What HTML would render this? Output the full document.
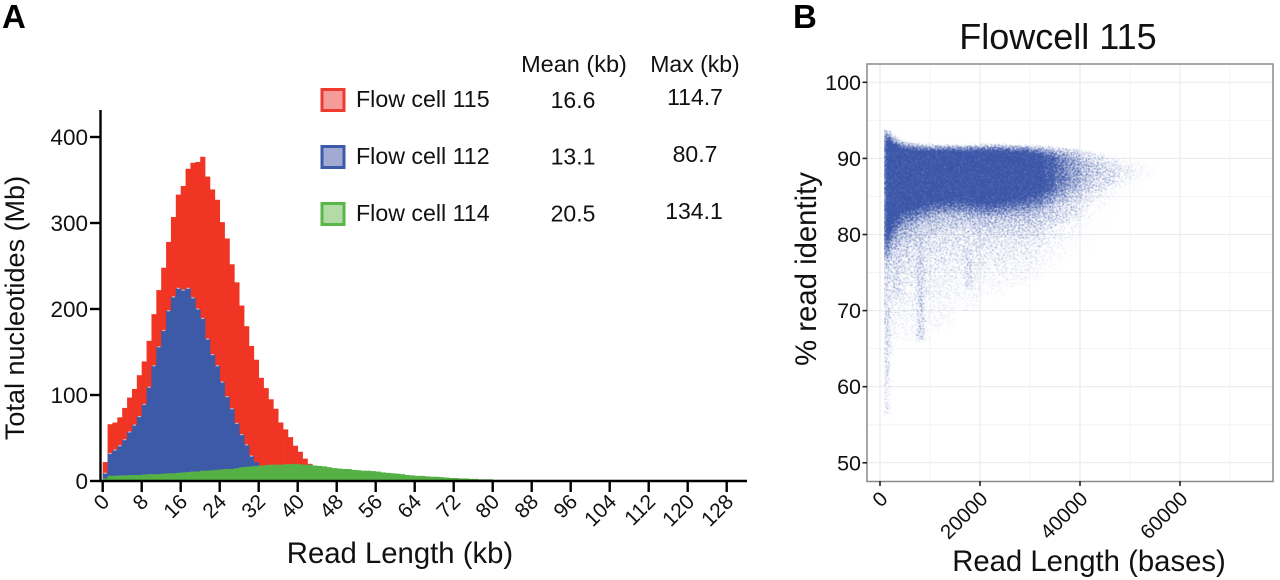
<!DOCTYPE html>
<html>
<head>
<meta charset="utf-8">
<title>Read length and identity</title>
<style>
html,body{margin:0;padding:0;background:#fff}
svg{display:block;font-family:"Liberation Sans",Arial,sans-serif;fill:#111}
</style>
</head>
<body>
<svg id="fig" xmlns="http://www.w3.org/2000/svg" width="1280" height="580" viewBox="0 0 1280 580">
  <defs>
    <filter id="grain" filterUnits="userSpaceOnUse" x="870" y="90" width="340" height="360" color-interpolation-filters="sRGB">
      <feGaussianBlur in="SourceAlpha" stdDeviation="2.5 1.2" result="soft"/>
      <feComponentTransfer in="soft" result="lifted">
        <feFuncA type="table" tableValues="0 0.3 0.38 0.46 0.54 0.62 0.7 0.8 0.9 1 1"/>
      </feComponentTransfer>
      <feTurbulence type="fractalNoise" baseFrequency="0.8" numOctaves="2" seed="7" result="rawNoise"/>
      <feComponentTransfer in="rawNoise" result="noise">
        <feFuncA type="linear" slope="2.2" intercept="-0.6"/>
      </feComponentTransfer>
      <feComposite in="lifted" in2="noise" operator="arithmetic" k1="0" k2="3.6" k3="3" k4="-3" result="mask"/>
      <feGaussianBlur in="mask" stdDeviation="0.4" result="maskSoft"/>
      <feFlood flood-color="#3b56a8"/>
      <feComposite in2="maskSoft" operator="in"/>
    </filter>
    <clipPath id="scatter-clip"><rect x="884" y="60" width="389" height="421"/></clipPath>
  </defs>

  <text x="2" y="28" font-size="33" font-weight="bold" fill="#000">A</text>
  <text x="793" y="28" font-size="33" font-weight="bold" fill="#000">B</text>

  <g id="hist"></g>
  <g id="axesA"></g>
  <text font-size="27" text-anchor="middle" transform="translate(24,308) rotate(-90)">Total nucleotides (Mb)</text>
  <text x="400" y="563" font-size="29.3" text-anchor="middle">Read Length (kb)</text>

  <g>
    <text x="574" y="72" font-size="23.5" text-anchor="middle">Mean (kb)</text>
    <text x="695" y="72" font-size="23" text-anchor="middle">Max (kb)</text>

    <rect x="322" y="89.5" width="22" height="21" fill="#f59c9a" stroke="#ee3a30" stroke-width="3"/>
    <text x="356" y="107" font-size="23.2">Flow cell 115</text>
    <text x="573" y="108" font-size="23" text-anchor="middle">16.6</text>
    <text x="695" y="105" font-size="23" text-anchor="middle">114.7</text>

    <rect x="322" y="146.5" width="22" height="21" fill="#a0aad2" stroke="#3c5aa8" stroke-width="3"/>
    <text x="356" y="164" font-size="23.2">Flow cell 112</text>
    <text x="573" y="164.500" font-size="23" text-anchor="middle">13.1</text>
    <text x="695" y="162" font-size="23" text-anchor="middle">80.7</text>

    <rect x="322" y="203.500" width="22" height="21" fill="#b2dbA8" stroke="#5ab54a" stroke-width="3"/>
    <text x="356" y="221" font-size="23.2">Flow cell 114</text>
    <text x="573" y="221.500" font-size="23" text-anchor="middle">20.5</text>
    <text x="694" y="219" font-size="23" text-anchor="middle">134.1</text>
  </g>

  <text x="1058" y="49" font-size="36" text-anchor="middle">Flowcell 115</text>
  <g id="gridB"></g>
  <g clip-path="url(#scatter-clip)">
    <g id="scatter" filter="url(#grain)"></g>
  </g>
  <g id="axesB"></g>
  <text font-size="29.3" text-anchor="middle" transform="translate(816,269) rotate(-90)">% read identity</text>
  <text x="1089" y="571" font-size="29.3" text-anchor="middle">Read Length (bases)</text>
</svg>
<script>
// Panel A: nucleotides (Mb) per 1 kb read-length bin
const redValues = [22,66,68,74,85,97,107,123,139,163,194,222,248,278,307,333,343,363,370,371,377,354,339,327,301,282,252,231,204,180,157,141,120,108,95,84,68,60,51,41,34,26,20,16,8];
const blueValues = [9,32,36,41,48,57,65,75,89,109,134,156,175,198,214,224,222,224,213,200,189,165,147,134,115,98,84,67,54,42,29,22,18,12,6];
const greenValues = [3,6,6,6.5,6.5,7,7,7,7.5,8,8,8,8.5,9,9,9.5,10,10.5,11,11,12,12,12.5,13,13.5,14,14,15,16,16.5,17,17.5,18,18.5,19,19,19,19.5,19.5,20,19.5,19,19,18,17.5,17,16,15,14.5,14,14,13,12.5,12,12,11.5,11,10,9.5,9,8.5,8,7,6.5,6,6,5.5,5,5,4.5,4,3.5,3.5,3,3,2.5,2.5,2,2,2,1,0.6,0.5,0.4,0.3];
const xTicksA = [0,8,16,24,32,40,48,56,64,72,80,88,96,104,112,120,128];
const yTicksA = [0,100,200,300,400];

// Panel B: density bands of the scatter, read by eye per read-length bin
const bandBases = [900,1500,2000,3000,4000,5000,7500,10000,12500,15000,17500,20000,22500,25000,27500,30000,32500,35000,37500,40000,42500,45000,47500,50000,52500,55000];
const topEdge = [93.8,93.5,93,92.5,92.2,92,91.8,91.7,91.7,91.7,91.7,91.8,91.8,91.7,91.7,91.6,91.5,91.4,91.2,91,90.8,90.5,90.2,90,89.5];
const coreTop = [92.8,92.2,91.6,91.2,91,90.9,90.8,90.8,90.8,90.8,90.8,90.8,90.8,90.7,90.6,90.4,90.2,89.9,89.6,89.2,89,88.9,88.8,88.8,88.8];
const coreBottom = [78,80,82,83,83.8,84,84.6,85,85,85,84.8,84.6,84.8,85,85.4,85.8,86.2,86.6,87,87.4,87.5,87.5,87.5,87.5,87.5];
const fringeBottom = [75,75.5,76,77,77.5,78,79,79.5,80,80,79.8,79.8,79.8,80,80,80,80.5,81,81.5,82,83,84,85,86,87];
const tailBottom = [56,60,64,66,66,66,66,67,68,70,70,72,72,73,73,74,75,76,77,78,80,82,84,85,86];
const coreDensity = [1,1,1,1,1,1,1,1,1,1,1,1,1,1,1,0.95,0.8,0.62,0.45,0.3,0.2,0.13,0.08,0.05,0.02];
const streakBases = [1300,3500,5300,8100,17700];
const streakTop = [76,83,83,80,78];
const streakBottom = [56,72,76,66,73];
const streakDensity = [0.22,0.3,0.22,0.4,0.2];
const xTicksB = [0,20000,40000,60000];
const xMinorB = [10000,30000,50000,70000];
const yTicksB = [50,60,70,80,90,100];
const yMinorB = [55,65,75,85,95];

const NS = 'http://www.w3.org/2000/svg';
function make(tag, attrs, parent) {
  const el = document.createElementNS(NS, tag);
  for (const k in attrs) el.setAttribute(k, attrs[k]);
  parent.appendChild(el);
  return el;
}
const xA = kb => 102.7 + kb * 4.875;
const yA = v => 481 - v * 0.86;
const xB = b => 880 + b / 200;
const yB = p => 82.3 + (100 - p) * 7.61;

const hist = document.getElementById('hist');
function drawSeries(values, colour, name) {
  const g = make('g', {fill: colour}, hist);
  
  
  values.forEach((v, i) => {
    const bar = make('rect', {x: xA(i), y: yA(v), width: 5.2, height: 481 - yA(v)}, g);
    
    
  });
  return g;
}
drawSeries(redValues, '#f03524', 'flow-cell-115-series');
const blueGroup = drawSeries(blueValues, '#3d5aa8', 'flow-cell-112-series');
blueValues.forEach((v, i) => {
  if (i > 30) return;
  const cap = make('rect', {x: xA(i) + 1, y: yA(v) - 0.6, width: 3, height: 1.2, fill: '#b9bcd0'}, blueGroup);
  
  
});
drawSeries(greenValues, '#55b146', 'flow-cell-114-series');

const axesA = document.getElementById('axesA');
const yAxisLine = make('line', {x1: 100.5, x2: 100.5, y1: 110, y2: 482, stroke: '#000', 'stroke-width': 2.4}, axesA);


const xAxisLine = make('line', {x1: 100, x2: 747, y1: 481, y2: 481, stroke: '#000', 'stroke-width': 2.4}, axesA);


yTicksA.forEach(t => {
  const tick = make('line', {x1: 90, x2: 100, y1: yA(t), y2: yA(t), stroke: '#000', 'stroke-width': 2.4}, axesA);
  
  
  const label = make('text', {x: 88, y: yA(t) + 8, 'font-size': 22.5, 'text-anchor': 'end'}, axesA);
  label.textContent = t;
  
  
});
xTicksA.forEach(t => {
  const tick = make('line', {x1: xA(t), x2: xA(t), y1: 481, y2: 492, stroke: '#000', 'stroke-width': 2.4}, axesA);
  
  
  const px = xA(t) + 8, py = 503;
  const label = make('text', {x: px, y: py, 'font-size': 21, 'text-anchor': 'end', transform: 'rotate(-45 ' + px + ' ' + py + ')'}, axesA);
  label.textContent = t;
  
  
});

const gridB = document.getElementById('gridB');
function gridLine(attrs, colour, name) {
  const l = make('line', Object.assign({stroke: colour, 'stroke-width': 1}, attrs), gridB);
  
  
}
xMinorB.forEach(b => gridLine({x1: xB(b), x2: xB(b), y1: 64, y2: 481}, '#f4f4f7', 'x-minor-gridline'));
yMinorB.forEach(p => gridLine({x1: 867, x2: 1273, y1: yB(p), y2: yB(p)}, '#f4f4f7', 'y-minor-gridline'));
xTicksB.forEach(b => gridLine({x1: xB(b), x2: xB(b), y1: 64, y2: 481}, '#e9e9ee', 'x-major-gridline'));
yTicksB.forEach(p => gridLine({x1: 867, x2: 1273, y1: yB(p), y2: yB(p)}, '#e9e9ee', 'y-major-gridline'));

const scatter = document.getElementById('scatter');
const defs = document.querySelector('defs');
topEdge.forEach((top, i) => {
  const y0 = yB(top), y1 = yB(tailBottom[i]), h = y1 - y0, d = coreDensity[i];
  const off = p => (yB(p) - y0) / h;
  const grad = make('linearGradient', {id: 'band' + i, x1: 0, x2: 0, y1: 0, y2: 1}, defs);
  [[0, d * 0.2], [off(coreTop[i]), d], [off(coreBottom[i]), d],
   [off((coreBottom[i] + fringeBottom[i]) / 2), d * 0.32],
   [off(fringeBottom[i]), d * 0.1], [1, d * 0.03]].forEach(s => {
    make('stop', {offset: s[0], 'stop-color': '#000', 'stop-opacity': s[1]}, grad);
  });
  const band = make('rect', {x: xB(bandBases[i]), y: y0, width: xB(bandBases[i + 1]) - xB(bandBases[i]), height: h, fill: 'url(#band' + i + ')'}, scatter);
  
  
});
streakBases.forEach((b, i) => {
  const s = make('rect', {x: xB(b) - 1, y: yB(streakTop[i]), width: 2, height: yB(streakBottom[i]) - yB(streakTop[i]), fill: '#000', 'fill-opacity': streakDensity[i]}, scatter);
  
  
});

const axesB = document.getElementById('axesB');
const frame = make('rect', {x: 867, y: 64, width: 406, height: 417.500, fill: 'none', stroke: '#8a8a8a', 'stroke-width': 1.5}, axesB);


yTicksB.forEach(p => {
  const tick = make('line', {x1: 862.5, x2: 867, y1: yB(p), y2: yB(p), stroke: '#222', 'stroke-width': 1.6}, axesB);
  
  
  const label = make('text', {x: 861, y: yB(p) + 7.500, 'font-size': 21.5, 'text-anchor': 'end'}, axesB);
  label.textContent = p;
  
  
});
xTicksB.forEach(b => {
  const tick = make('line', {x1: xB(b), x2: xB(b), y1: 481, y2: 486, stroke: '#222', 'stroke-width': 1.6}, axesB);
  
  
  const px = xB(b) + 9, py = 500;
  const label = make('text', {x: px, y: py, 'font-size': 20.5, 'text-anchor': 'end', transform: 'rotate(-45 ' + px + ' ' + py + ')'}, axesB);
  label.textContent = b;
  
  
});
</script>
</body>
</html>
